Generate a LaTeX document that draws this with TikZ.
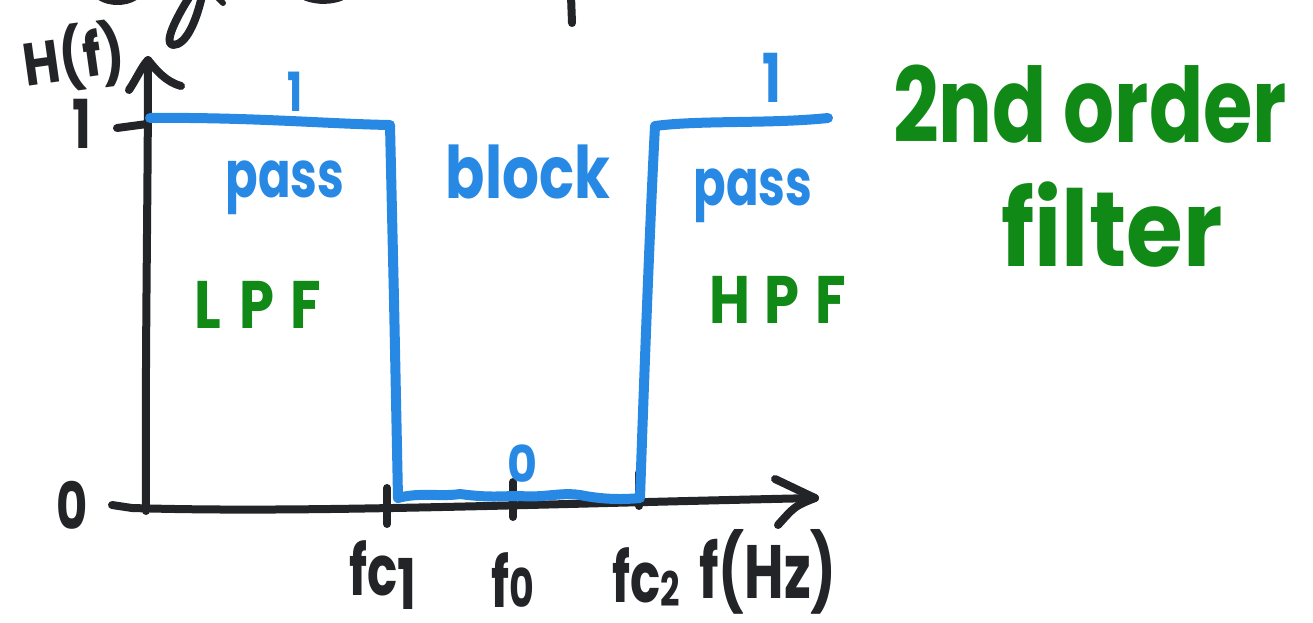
\documentclass[tikz,border=0pt]{standalone}
\usepackage{fontspec}
\setmainfont{Poppins}
\definecolor{ink}{RGB}{35,36,40}
\definecolor{penblue}{RGB}{40,137,228}
\definecolor{pengreen}{RGB}{16,137,22}
% tall hand-lettering: stretch text vertically
\newcommand{\tall}[2][1.35]{\scalebox{1}[#1]{#2}}
\begin{document}
\begin{tikzpicture}[x=1pt,y=-1pt,line cap=round,line join=round,
  axis/.style={draw=ink,line width=8pt},
  response/.style={draw=penblue,line width=10pt},
  stroke/.style={draw=ink,line width=8pt},
  lbl/.style={inner sep=0pt,font=\bfseries\fontsize{#1}{#1}\selectfont},
  inklbl/.style={lbl=#1,text=ink},
  bluelbl/.style={lbl=#1,text=penblue},
  greenlbl/.style={lbl=#1,text=pengreen}]
\useasboundingbox (0,0) rectangle (1313,622);

% fragments of handwriting above
\draw[stroke] (202,-4) .. controls (196,22) and (186,45) .. (173,45)
  .. controls (163,44) and (176,18) .. (190,-4);
\draw[stroke] (571,-4) -- (572,23);
\draw[stroke,line width=6pt] (218,-2) -- (223,3);
\draw[stroke,line width=5pt] (305,-2) .. controls (318,3) and (332,2) .. (342,-2);
\draw[stroke,line width=5pt] (100,-2) .. controls (110,4) and (125,4) .. (135,-2);

% coordinates of the plot
\coordinate (orig) at (146,511);
\coordinate (ytip) at (148,60);
\coordinate (xtip) at (815,498);
\coordinate (fcA) at (387,507);
\coordinate (fmid) at (513,505);
\coordinate (fcB) at (639,503);

% vertical axis with open arrowhead
\draw[axis] (orig) .. controls (145,350) and (148,200) .. (ytip);
\draw[axis] (129,90) .. controls (137,78) and (142,66) .. (ytip)
  .. controls (156,70) and (166,82) .. (181,86);
\draw[axis] (117,128) -- (147,124);

% horizontal axis with open arrowhead
\draw[axis] (112,505) -- (132,508) .. controls (300,513) and (500,505) .. (xtip);
\draw[axis] (775,479) .. controls (795,488) .. (xtip) .. controls (795,506) .. (778,525);

% ticks
\draw[axis] ([yshift=-17pt]fcA) -- ([yshift=19pt]fcA);
\draw[axis] ([yshift=-12pt]fmid) -- ([yshift=23pt]fmid);
\draw[axis] ([yshift=-3pt]fcB) -- ([yshift=30pt]fcB);

% band-stop response
\draw[response] (150,118) .. controls (250,117) and (330,124) .. (390,125)
  -- (394,300) -- (398,498)
  .. controls (420,492) and (440,497) .. (460,494)
  .. controls (490,498) and (500,496) .. (520,496)
  .. controls (545,498) and (560,492) .. (580,495)
  .. controls (600,499) and (620,500) .. (640,498)
  .. controls (644,380) and (650,220) .. (655,126)
  .. controls (700,120) and (770,124) .. (828,118);

% axis labels
\node[inklbl=50,rotate=8] (hf) at (74,58) {\tall[1.2]{H(f)}};
\node[inklbl=50] (one) at (82,124) {\tall{1}};
\node[inklbl=48] (zero) at (72,505) {\tall{0}};
\node[inklbl=50] (lfcA) at (383,575) {\tall[1.4]{fc\raisebox{-0.2em}{1}}};
\node[inklbl=50] (lfm) at (513,580) {\tall[1.4]{f{\fontsize{38}{38}\selectfont 0}}};
\node[inklbl=50] (lfcB) at (646,577) {\tall[1.4]{fc{\fontsize{34}{34}\selectfont\raisebox{-0.1em}{2}}}};
\node[inklbl=54] (lfhz) at (768,572) {\tall[1.4]{f(Hz)}};

% band annotations
\node[bluelbl=40] (oneA) at (295,92) {\tall{1}};
\node[bluelbl=50] (oneB) at (772,78) {\tall{1}};
\node[bluelbl=48] (passA) at (285,188) {\tall{pass}};
\node[bluelbl=58] (block) at (528,172) {\tall[1.25]{block}};
\node[bluelbl=48] (passB) at (753,196) {\tall{pass}};
\node[bluelbl=46] (zeroB) at (522,464) {\tall[1.1]{0}};
\node[greenlbl=56] (lpf) at (258,305) {\tall[1.2]{L\hspace{18pt}P\hspace{16pt}F}};
\node[greenlbl=56] (hpf) at (778,300) {\tall[1.2]{H\hspace{14pt}P\hspace{16pt}F}};
\node[greenlbl=80] (order) at (1090,104) {\tall[1.3]{2nd order}};
\node[greenlbl=92] (filter) at (1112,225) {\tall[1.15]{filter}};
\end{tikzpicture}
\end{document}
